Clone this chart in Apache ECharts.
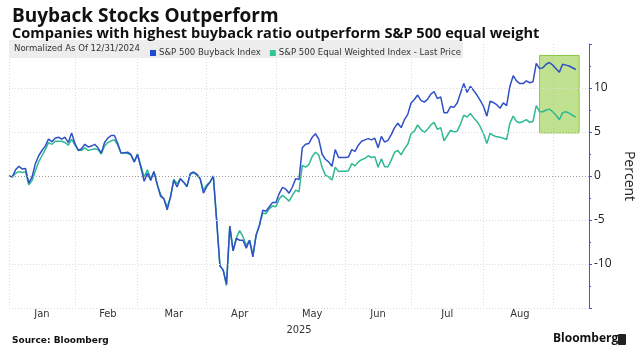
<!DOCTYPE html>
<html>
<head>
<meta charset="utf-8">
<script src="https://cdn.jsdelivr.net/npm/echarts@6/dist/echarts.min.js"></script>
<style>
html,body{margin:0;padding:0;background:#fff;overflow:hidden;}
#chart{width:636px;height:356px;}
</style>
</head>
<body>
<div id="chart"></div>
<script>
// ---- Data ----
const startDate = '2024-12-31';
const endDate = '2025-09-16';
const holidays = ['2025-01-01','2025-01-09','2025-01-20','2025-02-17','2025-04-18','2025-05-26','2025-06-19','2025-07-04','2025-09-01'];
const monthLabels = ['Jan','Feb','Mar','Apr','May','Jun','Jul','Aug'];
const monthLabelIdx = [10, 30, 50, 70, 92, 112, 133, 155];
const monthEndIdx = [0, 20, 39, 60, 81, 102, 122, 144, 165];
const yTicks = [-10, -5, 0, 5, 10];
const yGridLines = [-15, -10, -5, 5, 10];

const buyback = [
0, -0.1, 0.7, 1.1, 0.8, 0.85, -0.8, -0.1, 1.4, 2.3,
2.9, 3.4, 4.2, 3.9, 4.3, 4.4, 4.2, 4.4, 3.8, 4.9,
3.7, 2.9, 3.1, 3.6, 3.3, 3.4, 3.6, 3.2, 2.6, 3.8,
4.3, 4.6, 4.6, 3.7, 2.6, 2.65, 2.7, 2.45, 1.6, 2.45,
1.0, -0.6, 0.3, -0.5, 0.5, -1.0, -2.3, -2.6, -3.85, -2.4,
-0.5, -1.25, -0.3, -0.7, -1.2, 0.3, 0.45, 0.2, -0.3, -1.95,
-1.2, -0.7, 0.0, -5.0, -10.2, -10.7, -12.3, -5.7, -8.5, -7.1,
-7.3, -7.3, -8.2, -7.3, -9.2, -6.7, -5.6, -3.9, -4.0, -3.5,
-3.0, -3.0, -2.0, -1.3, -1.5, -1.95, -1.25, -0.3, -0.4, 3.2,
3.6, 3.7, 4.4, 4.8, 4.2, 2.5, 1.9, 1.6, 1.1, 3.0,
2.1, 2.1, 2.1, 2.15, 3.0, 2.8, 3.5, 3.95, 4.1, 4.25,
4.1, 4.3, 3.2, 4.5, 3.85, 4.05, 4.7, 5.5, 6.0, 5.5,
6.4, 7.0, 8.3, 8.7, 9.2, 8.6, 8.4, 8.7, 9.3, 9.6,
8.8, 9.0, 7.2, 7.2, 7.9, 7.8, 8.3, 9.4, 10.5, 9.5,
10.2, 9.7, 9.2, 8.6, 7.9, 6.8, 8.5, 8.35, 8.1, 7.7,
8.3, 8.0, 10.2, 11.4, 10.8, 10.5, 10.5, 10.8, 10.6, 10.7,
12.8, 12.2, 12.3, 12.7, 12.9, 12.6, 12.2, 11.8, 12.7, 12.6,
12.5, 12.3, 12.1
];
const equalWeight = [
0, -0.1, 0.3, 0.5, 0.4, 0.5, -1.0, -0.5, 0.6, 1.6,
2.3, 3.0, 3.8, 3.6, 3.95, 3.95, 3.95, 3.8, 3.5, 4.2,
3.5, 3.0, 2.9, 3.2, 2.9, 3.0, 3.1, 3.0, 2.5, 3.4,
3.8, 4.0, 4.1, 3.5, 2.6, 2.65, 2.55, 2.4, 1.6, 2.5,
1.2, -0.1, 0.7, -0.35, 0.5, -1.0, -2.1, -2.6, -3.5, -2.4,
-0.35, -0.9, -0.3, -0.7, -1.2, 0.2, 0.35, 0.1, -0.3, -1.6,
-1.0, -0.7, 0.0, -5.0, -10.2, -10.7, -12.45, -5.7, -8.5, -7.0,
-6.2, -6.9, -7.9, -7.3, -8.9, -6.7, -5.6, -4.2, -4.3, -3.7,
-3.4, -3.5, -2.6, -2.2, -2.5, -2.85, -2.2, -1.6, -1.8, 1.2,
1.0, 1.3, 2.2, 2.7, 2.4, 1.0, 0.1, -0.1, -0.45, 1.0,
0.5, 0.55, 0.55, 0.6, 1.4, 1.15, 1.6, 1.85, 2.0, 2.3,
2.1, 2.2, 1.0, 1.95, 1.05, 1.05, 1.8, 2.7, 2.9, 2.4,
3.1, 3.6, 4.8, 5.1, 5.8, 5.3, 4.95, 5.3, 5.8, 6.1,
5.3, 5.5, 4.0, 4.6, 5.2, 5.0, 5.1, 5.9, 6.9, 6.7,
7.1, 6.6, 6.2, 5.6, 4.8, 3.7, 4.85, 4.6, 4.45, 4.4,
4.3, 4.15, 6.0, 6.8, 6.2, 6.05, 6.2, 6.4, 6.1, 6.2,
8.0, 7.3, 7.3, 7.5, 7.6, 7.3, 6.9, 6.4, 7.2, 7.3,
7.15, 6.9, 6.7
];
// highlighted window (green box)
const highlightStartIdx = 161;
const highlightEndIdx = 173;
const highlightLow = 4.9;
const highlightHigh = 13.7;

// ---- trading-day categories ----
function buildTradingDays(start, end, hol) {
  const out = [];
  const d = new Date(start + 'T00:00:00Z');
  const e = new Date(end + 'T00:00:00Z');
  while (d <= e) {
    const s = d.toISOString().slice(0, 10);
    const wd = d.getUTCDay();
    if (wd !== 0 && wd !== 6 && hol.indexOf(s) < 0) out.push(s);
    d.setUTCDate(d.getUTCDate() + 1);
  }
  return out;
}
const dates = buildTradingDays(startDate, endDate, holidays);

const BLUE = '#3050c6';
const TEAL = '#2fb894';
const COND = '"DejaVu Sans Condensed", "Liberation Sans Narrow", sans-serif';

const gridLineData = yGridLines.map(v => ({yAxis: v}));

const chart = echarts.init(document.getElementById('chart'), null, {renderer: 'canvas'});
chart.setOption({
  animation: false,
  backgroundColor: '#fff',
  title: {
    text: 'Buyback Stocks Outperform',
    subtext: 'Companies with highest buyback ratio outperform S&P 500 equal weight',
    left: 7, top: 2, itemGap: 0,
    textStyle: {fontFamily: 'Open Sans', fontWeight: 'bold', fontSize: 19, color: '#111'},
    subtextStyle: {fontFamily: 'Open Sans', fontWeight: 'bold', fontSize: 14.6, color: '#111'}
  },
  graphic: [
    {type: 'rect', left: 9, top: 40, z: 1, shape: {width: 454, height: 18}, style: {fill: '#ededed'}},
    {type: 'text', left: 14, top: 44, z: 2, style: {text: 'Normalized As Of 12/31/2024', font: '9.5px ' + COND, fill: '#333'}},
    {type: 'text', left: 12, top: 336, style: {text: 'Source: Bloomberg', font: 'bold 9px "DejaVu Sans"', fill: '#111'}},
    {type: 'text', left: 553, top: 333, style: {text: 'Bloomberg', font: 'bold 12px "Open Sans"', fill: '#111'}},
    {type: 'rect', left: 618, top: 334, shape: {width: 8, height: 11, r: 1}, style: {fill: '#222'}}
  ],
  legend: {
    left: 145, top: 43,
    icon: 'rect', itemWidth: 6, itemHeight: 6, itemGap: 9,
    textStyle: {fontFamily: COND, fontSize: 9.5, color: '#333', padding: [0, 0, 0, -2]},
    data: ['S&P 500 Buyback Index', 'S&P 500 Equal Weighted Index - Last Price']
  },
  grid: {left: 9, right: 47, top: 44, bottom: 48, containLabel: false, outerBoundsMode: 'none'},
  xAxis: {
    type: 'category',
    data: dates,
    boundaryGap: false,
    name: '2025',
    nameLocation: 'middle',
    nameGap: 15,
    nameTextStyle: {fontFamily: COND, fontSize: 11, color: '#333'},
    axisLine: {show: false},
    axisTick: {show: false},
    axisLabel: {
      interval: (i) => monthLabelIdx.indexOf(i) >= 0,
      formatter: (v, i) => monthLabels[monthLabelIdx.indexOf(i)] || '',
      fontFamily: COND, fontSize: 11, color: '#333', margin: 1
    },
    splitLine: {
      show: true,
      interval: (i) => monthEndIdx.indexOf(i) >= 0,
      lineStyle: {color: '#dcdcdc', type: [1, 2], width: 1}
    }
  },
  yAxis: {
    type: 'value',
    position: 'right',
    min: -15, max: 15, interval: 5,
    name: 'Percent',
    nameLocation: 'middle',
    nameRotate: -90,
    nameGap: 30,
    nameTextStyle: {fontFamily: 'Open Sans', fontSize: 14, color: '#222'},
    axisLine: {show: true, lineStyle: {color: '#3b5cc6', width: 1}},
    axisTick: {show: true, length: 3, lineStyle: {color: '#3b5cc6'}},
    minorTick: {show: true, splitNumber: 2, length: 2, lineStyle: {color: '#3b5cc6'}},
    axisLabel: {
      formatter: (v) => yTicks.indexOf(v) >= 0 ? String(v) : '',
      fontFamily: 'Open Sans', fontSize: 12, color: '#222', margin: 5
    },
    splitLine: {show: false}
  },
  series: [
    {
      name: 'S&P 500 Buyback Index',
      type: 'line',
      data: buyback,
      showSymbol: false,
      symbol: 'none',
      lineStyle: {color: BLUE, width: 1.5},
      itemStyle: {color: '#1f4ad6'},
      z: 3,
      markLine: {
        silent: true, symbol: 'none', label: {show: false},
        lineStyle: {color: '#9a9a9a', type: [1, 2], width: 1},
        data: [{yAxis: 0}]
      }
    },
    {
      name: 'S&P 500 Equal Weighted Index - Last Price',
      type: 'line',
      data: equalWeight,
      showSymbol: false,
      symbol: 'none',
      lineStyle: {color: TEAL, width: 1.5},
      itemStyle: {color: '#35c49a'},
      z: 2,
      markLine: {
        silent: true, symbol: 'none', label: {show: false},
        lineStyle: {color: '#dcdcdc', type: [1, 2], width: 1},
        data: gridLineData
      }
    },
    {
      name: 'highlight',
      type: 'line',
      data: [],
      z: 10,
      silent: true,
      markArea: {
        silent: true,
        itemStyle: {color: 'rgba(150,206,70,0.6)', borderColor: '#8cc63f', borderWidth: 1},
        data: [[{xAxis: dates[highlightStartIdx], yAxis: highlightHigh}, {xAxis: dates[highlightEndIdx], yAxis: highlightLow}]]
      }
    }
  ]
});
</script>
</body>
</html>
